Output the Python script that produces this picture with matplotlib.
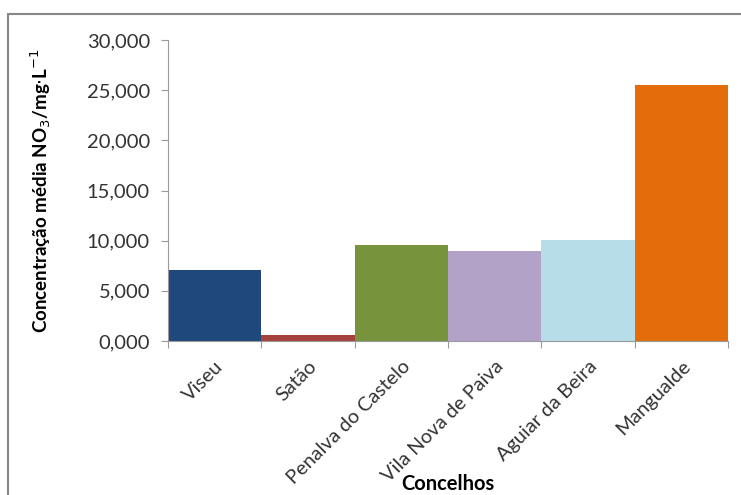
import matplotlib
matplotlib.use("Agg")
import matplotlib.pyplot as plt
from matplotlib.patches import Rectangle
import numpy as np

# Dados: concentração média de nitratos por concelho
concelhos = ['Viseu', 'Satão', 'Penalva do Castelo', 'Vila Nova de Paiva',
             'Aguiar da Beira', 'Mangualde']
concentracao = [7100, 600, 9550, 9000, 10100, 25550]
cores = ['#1F497D', '#A5403D', '#77933C', '#B3A2C7', '#B7DDE8', '#E46C0A']
yticks = [0, 5000, 10000, 15000, 20000, 25000, 30000]
ytick_labels = ['0,000', '5,000', '10,000', '15,000', '20,000', '25,000', '30,000']

plt.rcParams['font.family'] = ['Lato', 'DejaVu Sans']

fig = plt.figure(figsize=(7.41, 4.95), dpi=100)
# moldura do gráfico (cortada à direita e em baixo)
fig.patches.append(Rectangle((8 / 741, -0.1), 1.1, 1 - 14 / 495 + 0.1,
                             transform=fig.transFigure, fill=False,
                             edgecolor='#888888', linewidth=1.5))

ax = fig.add_axes([168 / 741, 1 - 341 / 495, 560 / 741, 301 / 495])
x = np.arange(len(concelhos))
ax.bar(x, concentracao, width=1.0, color=cores, linewidth=0)

ax.set_xlim(-0.5, len(concelhos) - 0.5)
ax.set_ylim(0, 30000)
ax.set_yticks(yticks)
ax.set_yticklabels(ytick_labels, fontsize=14.5, color='#333333')

# marcas entre categorias, como no Excel
ax.set_xticks(np.arange(len(concelhos) + 1) - 0.5)
ax.set_xticklabels([])
ax.set_xticks(x, minor=True)
ax.set_xticklabels(concelhos, minor=True, rotation=45, ha='right',
                   rotation_mode='anchor', fontsize=14.3, color='#333333')
ax.tick_params(axis='x', which='minor', length=0, pad=12)
ax.tick_params(axis='x', which='major', length=5, color='#999999')
ax.tick_params(axis='y', length=5, color='#999999', pad=8)

for s in ['top', 'right']:
    ax.spines[s].set_visible(False)
for s in ['left', 'bottom']:
    ax.spines[s].set_color('#999999')

ax.set_ylabel(r'Concentração média NO$_3$/mg$\cdot$L$^{-1}$', fontsize=13.5,
              fontweight='bold')
ax.yaxis.set_label_coords(-115 / 560, 0.5)
fig.text(448 / 741, 1 - 484 / 495, 'Concelhos', fontsize=14.5,
         fontweight='bold', ha='center', va='center')

fig.savefig('out.png', dpi=100)
